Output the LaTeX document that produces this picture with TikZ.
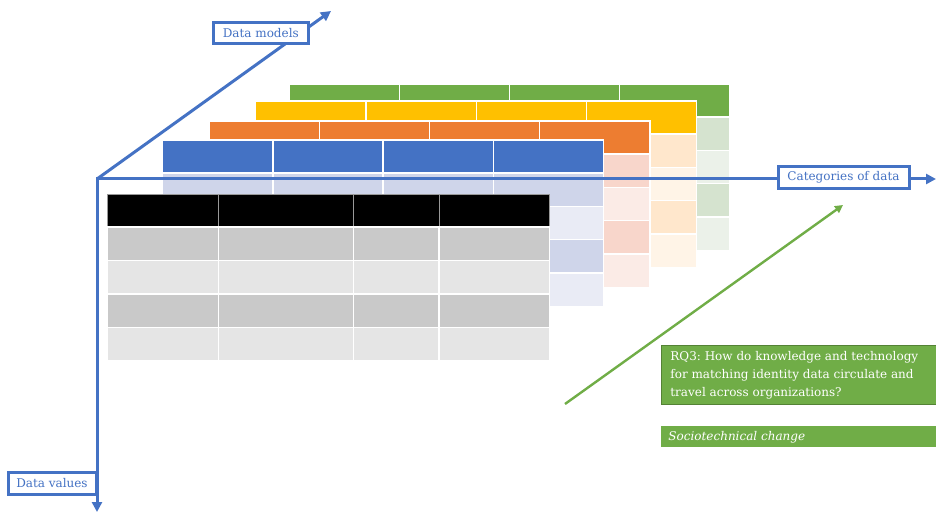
\documentclass[tikz,border=0pt]{standalone}
\usepackage{fontspec}
\setmainfont{DejaVu Serif}
\usetikzlibrary{arrows.meta}

\definecolor{axisblue}{HTML}{4472C4}
\definecolor{tabblue}{HTML}{4472C4}
\definecolor{tabblueD}{HTML}{CFD5EA}
\definecolor{tabblueL}{HTML}{E9EBF5}
\definecolor{taborange}{HTML}{ED7D31}
\definecolor{taborangeD}{HTML}{F8D6CB}
\definecolor{taborangeL}{HTML}{FBEBE6}
\definecolor{tabyellow}{HTML}{FFC000}
\definecolor{tabyellowD}{HTML}{FFE7CC}
\definecolor{tabyellowL}{HTML}{FFF4E7}
\definecolor{tabgreen}{HTML}{70AD47}
\definecolor{tabgreenD}{HTML}{D5E3CF}
\definecolor{tabgreenL}{HTML}{EBF1E9}
\definecolor{rowdark}{HTML}{C9C9C9}
\definecolor{rowlight}{HTML}{E5E5E5}
\definecolor{rqgreen}{HTML}{70AD47}
\definecolor{rqborder}{HTML}{548235}

\frenchspacing
\tikzset{
  cellbox/.style={draw=white, line width=1.3},
  axisline/.style={draw=axisblue, line width=3, -{Triangle[length=10pt,width=10pt]}},
  axislabel/.style={draw=axisblue, line width=3, fill=white, text=axisblue,
    font=\fontsize{12}{14}\selectfont, inner sep=0pt},
  rqbox/.style={fill=rqgreen, draw=rqborder, line width=0.8, text=white,
    align=left, anchor=north west, inner sep=0pt},
}

% a four-column table: x0, y0, header colour, dark band, light band
\newcommand\layertable[5]{%
  \foreach \c in {0,...,3}{%
    \path[cellbox, fill=#3] ({#1+\c*110.25},#2) rectangle ++(110.25,33);
    \foreach \r in {1,...,4}{%
      \pgfmathsetmacro\band{mod(\r,2)}%
      \ifdim\band pt>0pt
        \path[cellbox, fill=#4] ({#1+\c*110.25},{#2+33+(\r-1)*33.3}) rectangle ++(110.25,33.3);
      \else
        \path[cellbox, fill=#5] ({#1+\c*110.25},{#2+33+(\r-1)*33.3}) rectangle ++(110.25,33.3);
      \fi
    }%
  }%
}

\begin{document}
\begin{tikzpicture}[x=1pt,y=-1pt]
\useasboundingbox (0,0) rectangle (936,513);

% stacked tables, back to front
\layertable{289}{84}{tabgreen}{tabgreenD}{tabgreenL}
\layertable{255.7}{101}{tabyellow}{tabyellowD}{tabyellowL}
\layertable{209}{121}{taborange}{taborangeD}{taborangeL}
\layertable{162.6}{140}{tabblue}{tabblueD}{tabblueL}

% front table with uneven columns
\foreach \xa/\xb in {107.7/218.3, 218.3/353.3, 353.3/439, 439/549.3}{%
  \path[draw=gray!80, line width=0.8, fill=black] (\xa,194) rectangle (\xb,227);
  \path[cellbox, fill=rowdark]  (\xa,227)   rectangle (\xb,260.5);
  \path[cellbox, fill=rowlight] (\xa,260.5) rectangle (\xb,294);
  \path[cellbox, fill=rowdark]  (\xa,294)   rectangle (\xb,327.5);
  \path[cellbox, fill=rowlight] (\xa,327.5) rectangle (\xb,361);
}

% axes
\coordinate (origin) at (97,179);
\coordinate (yend) at (97,512);
\coordinate (xend) at (936,179);
\coordinate (zend) at (331,11);
\draw[axisline] (origin) -- (zend);
\draw[axisline] (origin) -- (xend);
\draw[axisline] ([yshift=1.5]origin) -- (yend);

\node[axislabel, minimum width=95, minimum height=21] (models) at (260.8,33) {Data models};
\node[axislabel, minimum width=88, minimum height=22] (values) at (52,483) {Data values};
\node[axislabel, minimum width=131, minimum height=22] (categories) at (843.5,177.5) {Categories of data};

% research question
\coordinate (rqtail) at (565,404);
\coordinate (rqhead) at (843,205);
\draw[draw=rqgreen, line width=2.4, -{Triangle[length=8pt,width=8pt]}] (rqtail) -- (rqhead);

\node[rqbox, minimum width=275, minimum height=59, font=\fontsize{12}{18}\selectfont] (rq) at (661,345)
  {\hspace*{8pt}\parbox[c][59pt][c]{265pt}{RQ3: How do knowledge and technology\\
   for matching identity data circulate and\\ travel across organizations?}};
\node[rqbox, draw=none, minimum width=275, minimum height=21, font=\fontsize{12}{14}\selectfont\itshape] (change) at (661,426)
  {\hspace*{6pt}\parbox[c][21pt][c]{267pt}{Sociotechnical change}};
\end{tikzpicture}
\end{document}
